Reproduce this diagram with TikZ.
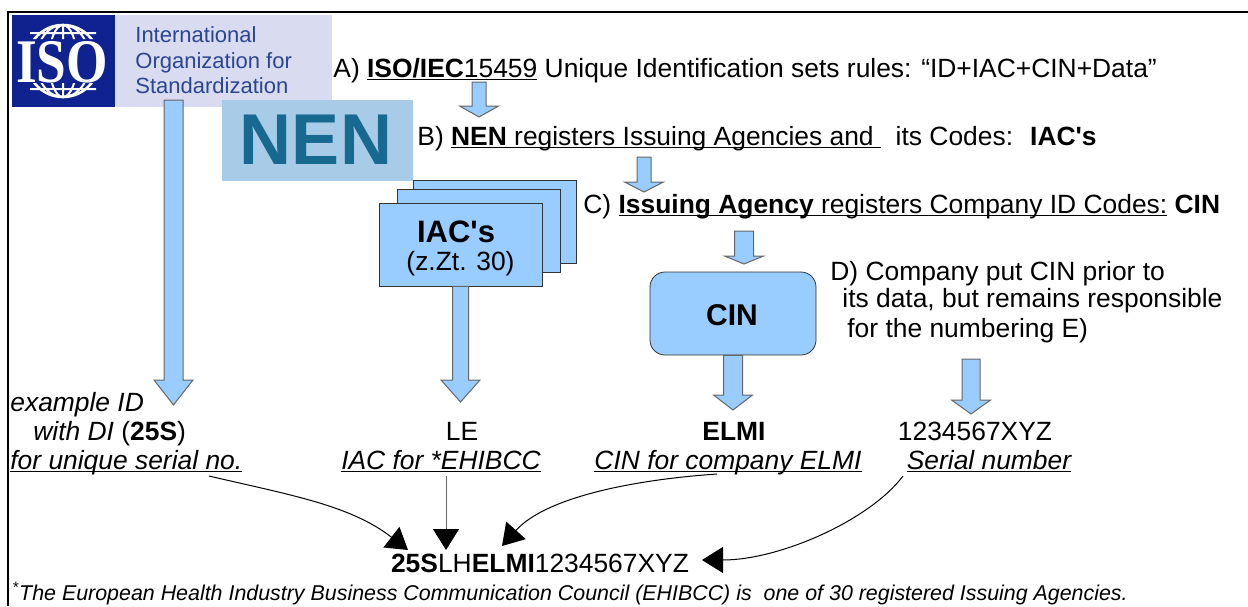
\documentclass[tikz,border=0pt]{standalone}
\usepackage{fontspec}
\setmainfont{Liberation Sans}
\newfontfamily\isofont{Liberation Serif}
\usepackage{xcolor}
\usepackage{tikz}
\usetikzlibrary{arrows.meta,calc}
\definecolor{isoblue}{HTML}{10228F}
\definecolor{isolav}{HTML}{D9DCF0}
\definecolor{isoink}{HTML}{2B4591}
\definecolor{nenbox}{HTML}{A8CCE7}
\definecolor{nenink}{HTML}{17698F}
\definecolor{agblue}{HTML}{99CCFF}
\tikzstyle{block} = [rectangle, draw=black!80, fill=agblue, minimum width=81.5pt, minimum height=41.5pt, inner sep=0pt]
\tikzstyle{line} = [draw, line width=0.5pt, -{Triangle[length=10.5pt,width=13pt,color=black]}]
\tikzstyle{fat} = [draw=black!60, line width=0.5pt, fill=agblue]
\tikzstyle{txt} = [anchor=base west, inner sep=0pt, font=\fontsize{13.2}{15}\selectfont]
\tikzstyle{txti} = [txt, font=\fontsize{13.2}{15}\selectfont\itshape]
\tikzstyle{lbl} = [anchor=base, inner sep=0pt, font=\fontsize{13.2}{15}\selectfont]
\tikzstyle{lbli} = [lbl, font=\fontsize{13.2}{15}\selectfont\itshape]
\newcommand{\undl}[1]{\underline{\smash{#1}}}
\newcommand{\iacs}{IAC\textquotesingle s}
% block arrow: from, tip, head length, half shaft width (px)
\newcommand{\fatarrow}[4]{%
  \path[fat] let \p1=(#1), \p2=(#2) in
    (\x2-#4*0.5pt,\y1) -- (\x2+#4*0.5pt,\y1) -- (\x2+#4*0.5pt,\y2+#3*0.5pt)
    -- (\x2+9.75pt,\y2+#3*0.5pt) -- (\x2,\y2) -- (\x2-9.75pt,\y2+#3*0.5pt)
    -- (\x2-#4*0.5pt,\y2+#3*0.5pt) -- cycle;}

\begin{document}
\begin{tikzpicture}[x=0.5pt,y=-0.5pt]
\useasboundingbox (0,0) rectangle (1248,606);
\draw [line width=0.6pt] (8,606) -- (8,12) -- (1248,12);

% logos
\fill [isoblue] (12,15) rectangle (115,107);
\fill [isolav] (115,15) rectangle (332,107);
\begin{scope}
\clip (12,15) rectangle (115,39) (12,83) rectangle (115,107);
\draw [white, line width=1.3pt] (63,61) circle [radius=36];
\draw [white, line width=1pt] (63,61) ellipse [x radius=14, y radius=36]
  (63,61) ellipse [x radius=27, y radius=36] (63,25) -- (63,97)
  (30,33) -- (96,33) (30,89) -- (96,89);
\end{scope}
\node [anchor=base, inner sep=0pt, text=white, font=\fontsize{31}{31}\isofont\bfseries] (iso-txt) at (62,82) {\scalebox{0.86}[1]{ISO}};
\node [txt, text=isoink, font=\fontsize{11}{13}\selectfont] (iso-l1) at (135,42) {International};
\node [txt, text=isoink, font=\fontsize{11}{13}\selectfont] (iso-l2) at (135,68) {Organization for};
\node [txt, text=isoink, font=\fontsize{11}{13}\selectfont] (iso-l3) at (135,93) {Standardization};
\node [fill=nenbox, minimum width=95.5pt, minimum height=40.5pt, inner sep=0pt] (nen) at (317.5,140.5) {};
\node [lbl, text=nenink, font=\fontsize{36}{36}\selectfont\bfseries] (nen-txt) at (316,164) {NEN};

% steps
\node [txt] (step-a) at (333,77) {A) \undl{\textbf{ISO/IEC}15459} Unique Identification sets rules: “ID+IAC+CIN+Data”};
\node [txt] (step-b) at (417,145) {B) \undl{\textbf{NEN} registers Issuing Agencies and } ~its Codes:~ \textbf{\iacs}};
\node [txt] (step-c) at (583,213) {C) \undl{\textbf{Issuing Agency} registers Company ID Codes:} \textbf{CIN}};
\node [txt] (step-d1) at (830,280) {D) Company put CIN prior to};
\node [txt] (step-d2) at (842,307) {its data, but remains responsible};
\node [txt] (step-d3) at (847,337) {for the numbering E)};

% boxes
\node [block] (iac-back) at (494.5,221.5) {};
\node [block] (iac-mid) at (479,230.5) {};
\node [block] (iac) at (460.5,244.5) {};
\node [lbl, font=\fontsize{15.5}{17}\selectfont\bfseries] (iac-name) at (456,242) {\iacs};
\node [lbl] (iac-count) at (460.5,270) {(z.Zt. 30)};
\node [block, minimum width=83pt, rounded corners=7.5pt] (cin) at (733,313.5) {};
\node [lbl, font=\fontsize{15}{17}\selectfont\bfseries] (cin-name) at (732,325) {CIN};

% block arrows
\coordinate (iso-top) at (173.5,100);
\coordinate (iso-tip) at (173.5,405);
\fatarrow{iso-top}{iso-tip}{25}{9.5}
\coordinate (a-top) at (479,82);
\coordinate (a-tip) at (479,117);
\fatarrow{a-top}{a-tip}{11}{7}
\coordinate (b-top) at (644,157);
\coordinate (b-tip) at (644,192);
\fatarrow{b-top}{b-tip}{10}{7}
\coordinate (c-top) at (744,231);
\coordinate (c-tip) at (744,264);
\fatarrow{c-top}{c-tip}{8}{9.5}
\coordinate (iac-tip) at (460.5,402);
\fatarrow{iac.south}{iac-tip}{22}{8}
\coordinate (cin-tip) at (733,410);
\fatarrow{cin.south}{cin-tip}{15}{9.5}
\coordinate (d-top) at (971,359);
\coordinate (d-tip) at (971,414);
\fatarrow{d-top}{d-tip}{14}{9}

% parts
\node [txti] (ex-1) at (10,411) {example ID};
\node [txti] (ex-2) at (33,440) {with DI \textup{(\textbf{25S})}};
\node [txti] (ex-3) at (10,469) {\undl{for unique serial no.}};
\node [lbl] (iac-val) at (462,440) {LE};
\node [lbli] (iac-lbl) at (441,469) {\undl{IAC for *EHIBCC}};
\node [lbl] (cin-val) at (734,440) {\textbf{ELMI}};
\node [lbli] (cin-lbl) at (728,469) {\undl{CIN for company ELMI}};
\node [lbl] (sn-val) at (975,440) {1234567XYZ};
\node [lbli] (sn-lbl) at (989,469) {\undl{Serial number}};

% result
\node [lbl] (result) at (540,572) {\textbf{25S}LH\textbf{ELMI}1234567XYZ};
\coordinate (f1) at (209,476);
\coordinate (f2) at (446,476);
\coordinate (f3) at (717,474);
\coordinate (f4) at (903,476);
\coordinate (t1) at (408,550);
\coordinate (t2) at (446,550);
\coordinate (t3) at (502,546);
\coordinate (t4) at (702,560);
\path [line] (f1) .. controls (290,495) and (350,505) .. (t1);
\path [line, draw=black!60] (f2) -- (t2);
\path [line] (f3) .. controls (630,480) and (545,498) .. (t3);
\path [line] (f4) .. controls (870,520) and (780,560) .. (t4);

\node [txti, font=\fontsize{10.7}{12}\selectfont\itshape] (note) at (12,600) {\textsuperscript{*}The European Health Industry Business Communication Council (EHIBCC) is~ one of 30 registered Issuing Agencies.};
\end{tikzpicture}
\end{document}
